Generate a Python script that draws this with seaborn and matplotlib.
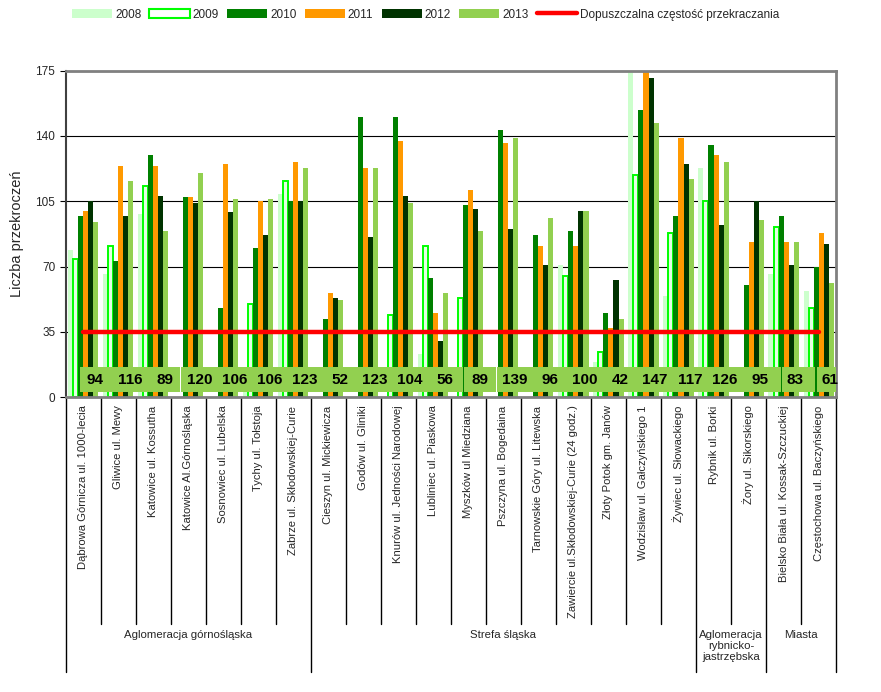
import numpy as np
import pandas as pd
import seaborn as sns
import matplotlib.pyplot as plt
from matplotlib.patches import Patch, Rectangle
from matplotlib.lines import Line2D

# stations (x categories)
stations = [
    "Dąbrowa Górnicza ul. 1000-lecia", "Gliwice ul. Mewy", "Katowice ul. Kossutha",
    "Katowice Al.Górnośląska", "Sosnowiec ul. Lubelska", "Tychy ul. Tołstoja",
    "Zabrze ul. Skłodowskiej-Curie", "Cieszyn ul. Mickiewicza", "Godów ul. Gliniki",
    "Knurów ul. Jedności Narodowej", "Lubliniec ul. Piaskowa", "Myszków ul Miedziana",
    "Pszczyna ul. Bogedaina", "Tarnowskie Góry ul. Litewska",
    "Zawiercie ul.Skłodowskiej-Curie (24 godz.)", "Złoty Potok gm. Janów",
    "Wodzisław ul. Gałczyńskiego 1", "Żywiec ul. Słowackiego", "Rybnik ul. Borki",
    "Żory ul. Sikorskiego", "Bielsko Biała ul. Kossak-Szczuckiej",
    "Częstochowa ul. Baczyńskiego",
]
nan = np.nan
v2008 = [79, 66, 98, nan, nan, 10, 109, nan, nan, nan, 23, nan, nan, nan, 71, 19, 175, 54, 123, nan, 66, 57]
v2009 = [74, 81, 113, nan, nan, 50, 116, nan, nan, 44, 81, 53, nan, nan, 65, 24, 119, 88, 105, nan, 91, 48]
v2010 = [97, 73, 130, 107, 48, 80, 105, 42, 150, 150, 64, 103, 143, 87, 89, 45, 154, 97, 135, 60, 97, 70]
v2011 = [100, 124, 124, 107, 125, 105, 126, 56, 123, 137, 45, 111, 136, 81, 81, 37, 175, 139, 130, 83, 83, 88]
v2012 = [105, 97, 108, 104, 99, 87, 105, 53, 86, 108, 30, 101, 90, 71, 100, 63, 171, 125, 92, 105, 71, 82]
v2013 = [94, 116, 89, 120, 106, 106, 123, 52, 123, 104, 56, 89, 139, 96, 100, 42, 147, 117, 126, 95, 83, 61]
years = ["2008", "2009", "2010", "2011", "2012", "2013"]
limit = [35] * len(stations)
limit_label = "Dopuszczalna częstość przekraczania"

regions = ["Aglomeracja górnośląska", "Strefa śląska", "Aglomeracja\nrybnicko-\njastrzębska", "Miasta"]
region_sizes = [7, 11, 2, 2]

colors = ["#ccffcc", "#00ff00", "#008000", "#ff9900", "#003300", "#92d050"]

series = [v2008, v2009, v2010, v2011, v2012, v2013]
df = pd.DataFrame({
    "station": np.tile(stations, len(years)),
    "year": np.repeat(years, len(stations)),
    "value": np.concatenate(series).astype(float),
}).dropna()

sns.set_style("white")
plt.rcParams["font.family"] = ["Liberation Sans", "DejaVu Sans"]

fig = plt.figure(figsize=(8.81, 6.92), dpi=100)
ax = fig.add_axes([0.0746, 0.4259, 0.8744, 0.4722])

sns.barplot(data=df, x="station", y="value", hue="year", order=stations, hue_order=years,
            palette=colors, saturation=1, width=0.86, errorbar=None, legend=False, ax=ax,
            linewidth=0)

# 2009 drawn as bright green outline
for bar in ax.containers[1]:
    bar.set_facecolor("#e4ffe4")
    bar.set_edgecolor("#00ff00")
    bar.set_linewidth(1.4)

x = np.arange(len(stations))
ax.plot(x, limit, color="#ff0000", lw=3.2, zorder=5)

ax.set_ylim(0, 175)
ax.set_xlim(-0.5, len(stations) - 0.5)
ax.set_yticks(np.arange(0, 176, 35))
ax.yaxis.grid(True, color="black", lw=0.8)
ax.set_axisbelow(True)
ax.tick_params(axis="y", labelsize=8.5, length=4, width=0.8, color="black", left=True)
ax.set_ylabel("Liczba przekroczeń", fontsize=10.5, labelpad=8)
ax.set_xlabel("")
ax.set_xticks(x)
ax.set_xticklabels(stations, rotation=90, fontsize=8.1)
ax.tick_params(axis="x", length=0, pad=6)

for side in ["top", "right", "bottom"]:
    ax.spines[side].set_color("#808080")
    ax.spines[side].set_linewidth(2)
ax.spines["left"].set_color("#404040")
ax.spines["left"].set_linewidth(1.5)

# value boxes (2013 values)
box_spans = [(-0.09, 2.76), (2.80, 10.84), (10.88, 11.79), (11.82, 19.92), (19.97, 20.91), (20.95, 21.5)]
for x0, x1 in box_spans:
    ax.add_patch(Rectangle((x0, 3), x1 - x0, 13, facecolor="#92d050", edgecolor="none", zorder=6))
for i, v in enumerate(v2013):
    ax.text(i + 0.33, 9.2, str(v), ha="center", va="center", fontsize=11, fontweight="bold",
            color="black", zorder=7)

# separators and region labels below the axis
tr = ax.get_xaxis_transform()
bounds = np.concatenate([[0], np.cumsum(region_sizes)]) - 0.5
for b in np.arange(-0.5, len(stations)):
    long = np.any(np.isclose(b, bounds))
    ax.add_line(Line2D([b, b], [0, -0.841 if long else -0.694], transform=tr,
                       color="black", lw=1, clip_on=False))
for name, a, b in zip(regions, bounds[:-1], bounds[1:]):
    ax.text((a + b) / 2, -0.712, name, transform=tr, ha="center", va="top",
            fontsize=8.2, linespacing=1.15)

handles = [Patch(facecolor=c, edgecolor="none") for c in colors]
handles[1] = Patch(facecolor="white", edgecolor="#00ff00", linewidth=1.5)
handles.append(Line2D([], [], color="#ff0000", lw=3.2))
fig.legend(handles, years + [limit_label], loc="center", bbox_to_anchor=(0.483, 0.979),
           ncol=7, frameon=False, fontsize=8.5, handlelength=3.4, handleheight=0.75,
           handletextpad=0.25, columnspacing=0.7)

fig.savefig("out.png", dpi=100)
